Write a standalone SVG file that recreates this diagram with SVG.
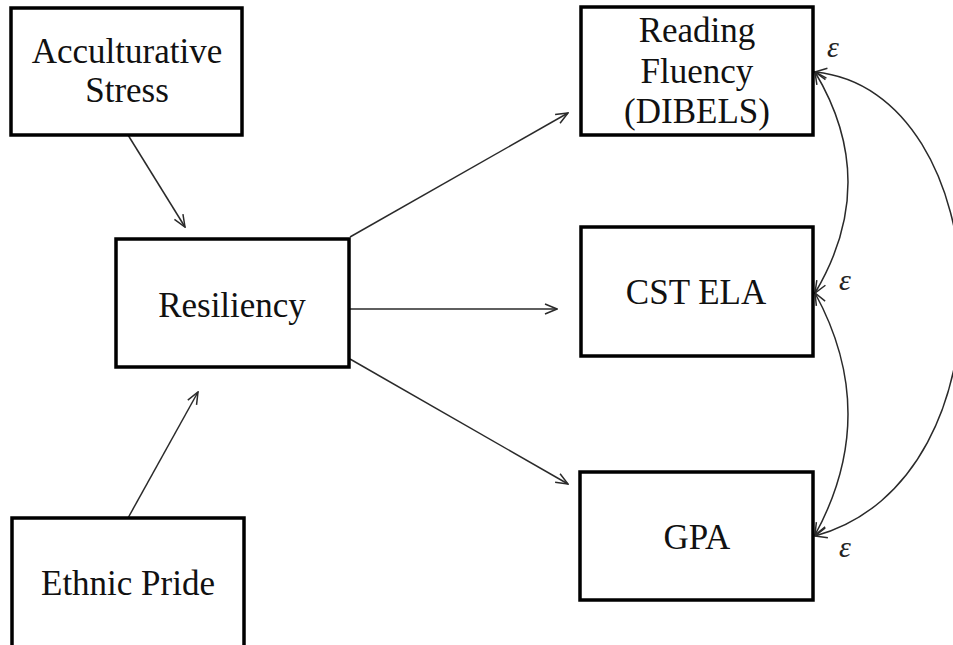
<svg xmlns="http://www.w3.org/2000/svg" width="953" height="645" viewBox="0 0 953 645">
<style>
.box{fill:#fff;stroke:#000;stroke-width:3.5}
text{font-family:'Liberation Serif','Times New Roman',serif}
.lbl{font-size:35px;fill:#111;text-anchor:middle}
.eps{font-size:30px;font-style:italic;fill:#222;text-anchor:middle}
.edge{fill:none;stroke:#2a2a2a;stroke-width:1.5}
</style>
<defs>
<marker id="arr" viewBox="0 0 14 12" refX="13" refY="6" markerWidth="14" markerHeight="12" orient="auto-start-reverse" markerUnits="userSpaceOnUse">
<path d="M1,1 L13,6 L1,11" fill="none" stroke="#2a2a2a" stroke-width="1.5"/>
</marker>
</defs>
<rect width="953" height="645" fill="#fff"/>
<g id="connectors">
<line class="edge" x1="128" y1="135" x2="185" y2="227" marker-end="url(#arr)"/>
<line class="edge" x1="128" y1="518" x2="198" y2="392" marker-end="url(#arr)"/>
<line class="edge" x1="350" y1="237" x2="568" y2="113" marker-end="url(#arr)"/>
<line class="edge" x1="350" y1="309" x2="557" y2="309" marker-end="url(#arr)"/>
<line class="edge" x1="350" y1="359" x2="568" y2="484" marker-end="url(#arr)"/>
<path class="edge" d="M815,72 Q881,182 815,293" marker-start="url(#arr)" marker-end="url(#arr)"/>
<path class="edge" d="M815,293 Q881,414 815,535" marker-start="url(#arr)" marker-end="url(#arr)"/>
<path class="edge" d="M815,72 C1000,90 1020,480 815,536" marker-start="url(#arr)" marker-end="url(#arr)"/>
</g>
<g id="acculturative">
<rect class="box" x="11" y="8" width="231" height="127"/>
<text class="lbl" x="127" y="63">Acculturative</text>
<text class="lbl" x="127" y="102">Stress</text>
</g>
<g id="ethnic">
<rect class="box" x="12" y="518" width="232" height="140"/>
<text class="lbl" x="128" y="595">Ethnic Pride</text>
</g>
<g id="resiliency">
<rect class="box" x="116" y="239" width="233" height="128"/>
<text class="lbl" x="232" y="317">Resiliency</text>
</g>
<g id="reading">
<rect class="box" x="581" y="7" width="232" height="128"/>
<text class="lbl" x="697" y="42">Reading</text>
<text class="lbl" x="697" y="83">Fluency</text>
<text class="lbl" x="697" y="123">(DIBELS)</text>
</g>
<g id="cst">
<rect class="box" x="581" y="227" width="232" height="129"/>
<text class="lbl" x="696" y="304">CST ELA</text>
</g>
<g id="gpa">
<rect class="box" x="580" y="472" width="233" height="128"/>
<text class="lbl" x="697" y="549">GPA</text>
</g>
<g id="errors">
<text class="eps" x="833" y="57">ε</text>
<text class="eps" x="845" y="290">ε</text>
<text class="eps" x="845" y="557">ε</text>
</g>
</svg>
